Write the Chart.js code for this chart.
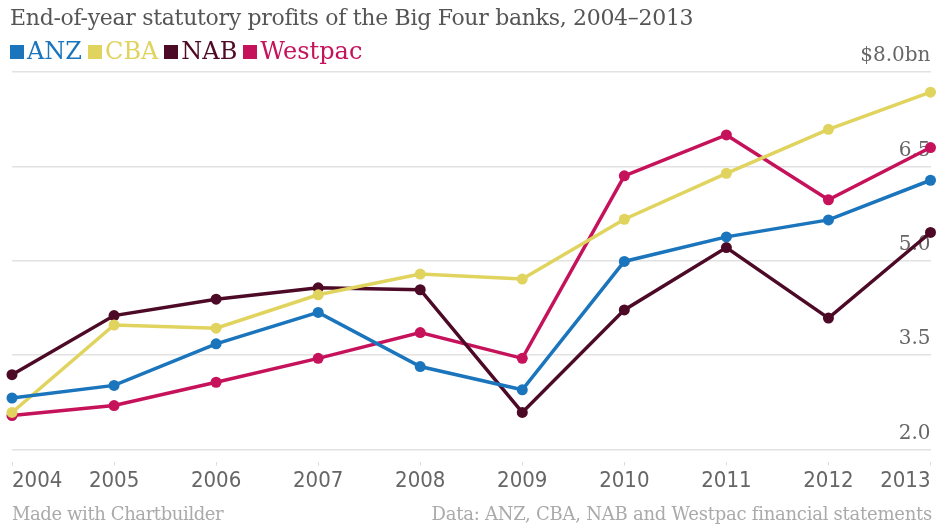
<!DOCTYPE html>
<html lang="en">
<head>
  <meta charset="UTF-8">
  <title>Big Four bank profits</title>
  <script src="https://cdn.jsdelivr.net/npm/chart.js"></script>
  <style>
    body { margin: 0; background: #fff; }
    .wrap { position: relative; width: 936px; height: 525px; overflow: hidden; }
    .title { position: absolute; left: 10px; top: 5px; font: 22px "DejaVu Serif", serif; color: #555; white-space: nowrap; letter-spacing: -0.3px; }
    .legend { position: absolute; left: 10px; top: 37px; font: 24px "DejaVu Serif", serif; white-space: nowrap; }
    .legend span { margin-right: 6px; }
    .legend i { display: inline-block; width: 14px; height: 14px; margin-right: 3px; vertical-align: 0px; }
    .foot { position: absolute; top: 503px; font: 18px "DejaVu Serif", serif; color: #aaa; white-space: nowrap; letter-spacing: -0.4px; }
    #chartBox { position: absolute; left: 0; top: 0; width: 936px; height: 525px; }
  </style>
</head>
<body>
  <div class="wrap">
    <div id="chartBox"><canvas id="profitChart"></canvas></div>
    <div class="title">End-of-year statutory profits of the Big Four banks, 2004–2013</div>
    <div class="legend" id="legend"></div>
    <div class="foot" style="left:12px">Made with Chartbuilder</div>
    <div class="foot" style="right:4px; letter-spacing:-0.25px">Data: ANZ, CBA, NAB and Westpac financial statements</div>
  </div>

  <script>
    // values, $bn
    const years = ['2004', '2005', '2006', '2007', '2008', '2009', '2010', '2011', '2012', '2013'];
    const anz = [2.82, 3.02, 3.68, 4.18, 3.32, 2.95, 4.99, 5.38, 5.65, 6.28];
    const cba = [2.59, 3.98, 3.93, 4.46, 4.79, 4.71, 5.66, 6.39, 7.09, 7.68];
    const nab = [3.19, 4.13, 4.39, 4.57, 4.54, 2.59, 4.22, 5.21, 4.09, 5.45];
    const westpac = [2.54, 2.70, 3.07, 3.45, 3.86, 3.45, 6.35, 7.00, 5.97, 6.80];
    const banks = ['ANZ', 'CBA', 'NAB', 'Westpac'];
    const colors = ['#1a75bc', '#e0d35e', '#4d0a26', '#c5125b'];
    const series = [anz, cba, nab, westpac];

    // legend above the plot
    const legend = document.getElementById('legend');
    banks.forEach(function(name, i) {
      const s = document.createElement('span');
      s.style.color = colors[i];
      s.innerHTML = '<i style="background:' + colors[i] + '"></i>' + name;
      legend.appendChild(s);
    });

    const datasets = banks.map(function(name, i) {
      return {
        label: name,
        data: series[i],
        borderColor: colors[i],
        backgroundColor: colors[i],
        borderWidth: 3.5,
        pointRadius: 5.5,
        pointBorderWidth: 0,
        pointBackgroundColor: colors[i],
        tension: 0,
        clip: false
      };
    });

    new Chart(document.getElementById('profitChart'), {
      type: 'line',
      data: { labels: years, datasets: datasets },
      options: {
        responsive: true,
        maintainAspectRatio: false,
        animation: false,
        layout: { padding: { top: 72, left: 12, right: 4, bottom: 29 } },
        plugins: { legend: { display: false }, tooltip: { enabled: false } },
        scales: {
          x: {
            offset: false,
            border: { display: false },
            grid: { drawOnChartArea: false, drawTicks: true, tickLength: 16, color: '#ddd', tickBorderDash: [0, 12, 5, 100] },
            ticks: {
              align: 'inner',
              maxRotation: 0,
              padding: 2,
              color: '#666',
              font: { family: '"Liberation Sans Narrow", "DejaVu Sans Condensed", sans-serif', size: 22 }
            }
          },
          y: {
            position: 'right',
            min: 2,
            max: 8,
            border: { display: false },
            grid: { color: '#e2e2e2', lineWidth: 1.5, drawTicks: false },
            ticks: {
              stepSize: 1.5,
              mirror: true,
              padding: 0,
              labelOffset: -16,
              color: '#666',
              font: { family: '"DejaVu Serif", serif', size: 20 },
              callback: function(v) { return v === 8 ? '$8.0bn' : v.toFixed(1); }
            }
          }
        }
      }
    });
  </script>
</body>
</html>
